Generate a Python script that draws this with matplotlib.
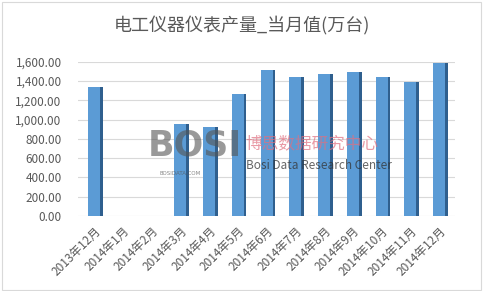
import numpy as np
import matplotlib
matplotlib.use("Agg")
import matplotlib.pyplot as plt
from matplotlib.ticker import FuncFormatter
from matplotlib.patches import Rectangle

plt.rcParams['font.family'] = ['Noto Sans CJK SC', 'DejaVu Sans']

# data
months = ['2013年12月', '2014年1月', '2014年2月', '2014年3月', '2014年4月', '2014年5月',
          '2014年6月', '2014年7月', '2014年8月', '2014年9月', '2014年10月', '2014年11月',
          '2014年12月']
values = [1340, 0, 0, 950, 925, 1270, 1510, 1440, 1470, 1490, 1440, 1390, 1590]
yticks = [0, 200, 400, 600, 800, 1000, 1200, 1400, 1600]

fig = plt.figure(figsize=(4.83, 2.91), dpi=100)
fig.patches.append(Rectangle((0.004, 0.004), 0.992, 0.99, transform=fig.transFigure,
                             fill=False, edgecolor='#d9d9d9', linewidth=0.8))
ax = fig.add_axes([0.162, 0.258, 0.78, 0.53])

x = np.arange(len(months))
w = 0.42
# front face and darker side face for the 3d look
ax.bar(x + w / 2 + 0.045, values, width=0.09, color='#2f5f8e', zorder=2)
ax.bar(x, values, width=w, color='#5b9bd5', zorder=3)

ax.set_xlim(-0.55, len(months) - 0.45)
ax.set_ylim(0, 1600)
ax.set_yticks(yticks)
ax.yaxis.set_major_formatter(FuncFormatter(lambda v, p: f'{v:,.2f}'))
ax.grid(axis='y', color='#d9d9d9', linewidth=0.8, zorder=0)
ax.set_xticks(x)
ax.set_xticklabels(months, rotation=45, ha='right', rotation_mode='anchor')
ax.tick_params(axis='y', length=0, labelsize=8.5, colors='#595959', pad=12)
ax.tick_params(axis='x', length=0, labelsize=8.5, colors='#595959', pad=6)
for s in ax.spines.values():
    s.set_visible(False)

fig.text(0.5, 0.912, '电工仪器仪表产量_当月值(万台)', ha='center', va='center',
         fontsize=13, color='#595959')

# watermark
fig.text(0.305, 0.5, 'BOSI', fontsize=25, fontweight='bold', color='#555555',
         alpha=0.6, ha='left', va='center', family='DejaVu Sans')
fig.text(0.33, 0.405, 'BOSIDATA.COM', fontsize=4, color='#555555', alpha=0.7,
         ha='left', va='center', family='DejaVu Sans')
fig.text(0.508, 0.505, '博思数据研究中心', fontsize=12, color='#e07080', alpha=0.7,
         ha='left', va='center')
fig.text(0.51, 0.43, 'Bosi Data Research Center', fontsize=8.5, color='#333333',
         alpha=0.75, ha='left', va='center')

fig.savefig('out.png', dpi=100)
